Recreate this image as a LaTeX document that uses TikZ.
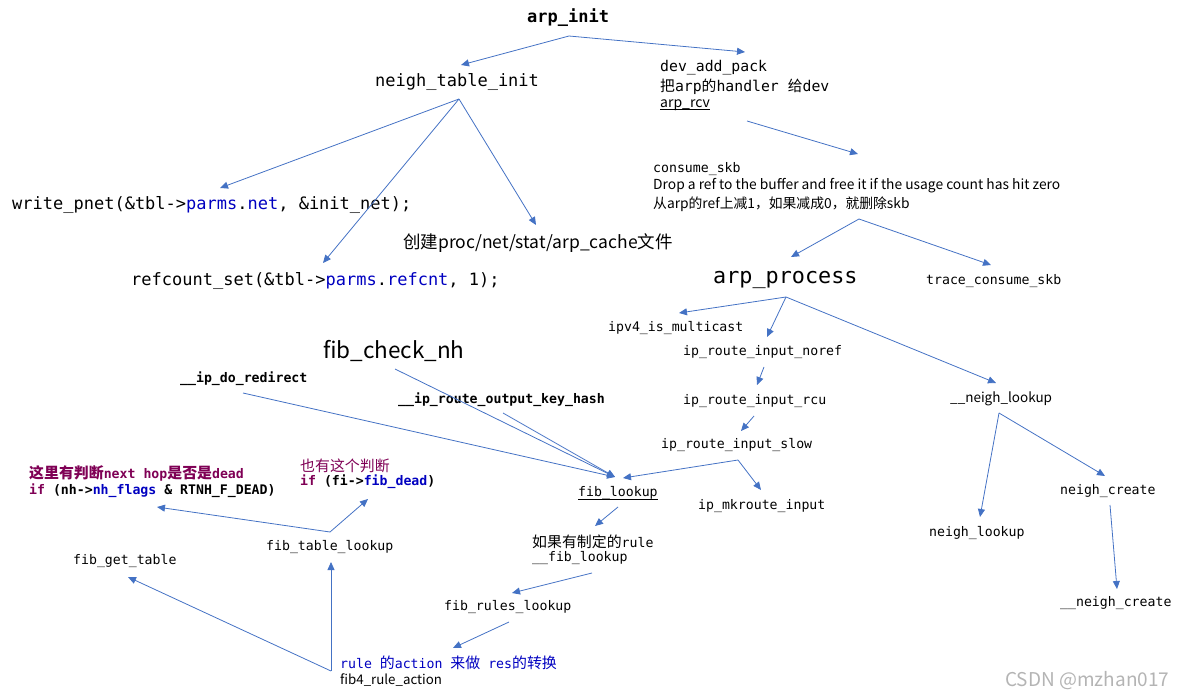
\documentclass[tikz,border=0pt]{standalone}
\usepackage{fontspec}
\setmonofont{DejaVu Sans Mono}
\newfontfamily\cjk{Noto Sans CJK SC}
\newfontfamily\cjkm{Noto Sans CJK SC}[Scale=1.13]
\newfontfamily\yh{Noto Sans CJK SC}
\usetikzlibrary{arrows.meta}
\definecolor{arrblue}{HTML}{4472C4}
\definecolor{fld}{HTML}{0000C0}
\definecolor{kw}{HTML}{7F0055}
\definecolor{wm}{HTML}{B4B4B4}
\tikzset{
  lbl/.style={anchor=west, inner sep=0pt, font=\ttfamily\fontsize{13.2}{15}\selectfont},
  lblb/.style={lbl, font=\ttfamily\bfseries\fontsize{13.2}{15}\selectfont},
  mid/.style={lbl, font=\ttfamily\fontsize{14.8}{17}\selectfont},
  big/.style={lbl, font=\ttfamily\fontsize{17}{20}\selectfont},
  bigb/.style={lbl, font=\ttfamily\bfseries\fontsize{17}{20}\selectfont},
  huge/.style={lbl, font=\ttfamily\fontsize{21.8}{24}\selectfont},
  sans/.style={lbl, font=\yh\fontsize{#1}{#1}\selectfont},
  uline/.style={draw=black, line width=0.8pt},
  arr/.style={draw=arrblue, line width=0.8pt, -{Triangle[length=8pt,width=7pt]}}
}
\begin{document}
\begin{tikzpicture}[x=1pt,y=-1pt]
\useasboundingbox (0,0) rectangle (1183,698);
% nodes
\node[bigb] (arpinit) at (527,18) {arp\_init};
\node[big] (ntinit) at (375,82) {neigh\_table\_init};
\node[mid] (devadd) at (660,68) {dev\_add\_pack};
\node[mid] (devhand) at (660,87) {{\cjk 把}arp{\cjk 的}handler {\cjk 给}dev};
\node[sans=14] (arprcv) at (660,105) {arp\_rcv};
\draw[uline] ([yshift=-2.5pt]arprcv.base west) -- ([yshift=-2.5pt]arprcv.base east);
\node[big] (write) at (12,205) {write\_pnet(\&tbl->\textcolor{fld}{parms}.\textcolor{fld}{net}, \&init\_net);};
\node[sans=17.5] (create) at (403,243) {创建proc/net/stat/arp\_cache文件};
\node[big] (refcount) at (131,281) {refcount\_set(\&tbl->\textcolor{fld}{parms}.\textcolor{fld}{refcnt}, 1);};
\node[lbl] (consume) at (653,169) {consume\_skb};
\node[sans=13.8] (drop) at (653,186) {Drop a ref to the buffer and free it if the usage count has hit zero};
\node[sans=13.8] (cong) at (653,204) {从arp的ref上减1，如果减成0，就删除skb};
\node[huge] (arpproc) at (713,280) {arp\_process};
\node[lbl] (trace) at (926,281) {trace\_consume\_skb};
\node[lbl] (ipv4) at (608,328) {ipv4\_is\_multicast};
\node[lbl] (noref) at (683,352) {ip\_route\_input\_noref};
\node[lbl] (rcu) at (683,401) {ip\_route\_input\_rcu};
\node[lbl] (slow) at (661,445) {ip\_route\_input\_slow};
\node[lbl] (mkroute) at (698,506) {ip\_mkroute\_input};
\node[lbl] (fiblookup) at (578,493) {fib\_lookup};
\draw[uline] ([yshift=-3pt]fiblookup.base west) -- ([yshift=-3pt]fiblookup.base east);
\node[sans=13.5] (nlookupu) at (950,399) {\_\_neigh\_lookup};
\node[lbl] (nlookup) at (929,533) {neigh\_lookup};
\node[lbl] (ncreate) at (1060,491) {neigh\_create};
\node[lbl] (ncreateu) at (1060,603) {\_\_neigh\_create};
\node[sans=22.5] (fibcheck) at (323,351) {fib\_check\_nh};
\node[lblb] (redirect) at (180,379) {\_\_ip\_do\_redirect};
\node[lblb] (keyhash) at (398,400) {\_\_ip\_route\_output\_key\_hash};
\node[lbl] (rulelook) at (532,542) {{\cjkm 如果有制定的}rule};
\node[lbl] (fiblooku) at (532,558) {\_\_fib\_lookup};
\node[lbl] (rules) at (444,607) {fib\_rules\_lookup};
\node[lbl, text=fld] (ruleact) at (340,663) {rule {\cjkm 的}action {\cjkm 来做} res{\cjkm 的转换}};
\node[sans=13.3] (fib4) at (340,680) {fib4\_rule\_action};
\node[lbl] (gettable) at (73,561) {fib\_get\_table};
\node[lbl] (tablelook) at (266,547) {fib\_table\_lookup};
\node[lblb, text=kw] (judgea) at (29,473) {{\cjkm\bfseries 这里有判断}next hop{\cjkm\bfseries 是否是}dead};
\node[lblb] (judgeb) at (29,491) {\textcolor{kw}{if} (nh->\textcolor{fld}{nh\_flags} \& RTNH\_F\_DEAD)};
\node[lbl, text=kw] (judgec) at (300,466) {{\cjkm 也有这个判断}};
\node[lblb] (judged) at (300,482) {\textcolor{kw}{if} (fi->\textcolor{fld}{fib\_dead})};
\node[sans=19, text=wm] (csdn) at (1005,681) {CSDN @mzhan017};
% connectors
\draw[arr] ([shift={(42,18)}]arpinit.west) -- ([shift={(86,-17)}]ntinit.west);
\draw[arr] ([shift={(42,18)}]arpinit.west) -- ([shift={(85,-16)}]devadd.west);
\draw[arr] ([shift={(87,16)}]arprcv.west) -- ([shift={(205,-15)}]consume.west);
\draw[arr] ([shift={(84,17)}]ntinit.west) -- ([shift={(208,-17)}]write.west);
\draw[arr] ([shift={(84,17)}]ntinit.west) -- ([shift={(192,-18)}]refcount.west);
\draw[arr] ([shift={(84,17)}]ntinit.west) -- ([shift={(133,-18)}]create.west);
\draw[arr] ([shift={(206,15)}]cong.west) -- ([shift={(78,-23)}]arpproc.west);
\draw[arr] ([shift={(206,15)}]cong.west) -- ([shift={(65,-16)}]trace.west);
\draw[arr] ([shift={(73,17)}]arpproc.west) -- ([shift={(71,-15)}]ipv4.west);
\draw[arr] ([shift={(73,17)}]arpproc.west) -- ([shift={(84,-15)}]noref.west);
\draw[arr] ([shift={(73,17)}]arpproc.west) -- ([shift={(46,-16)}]nlookupu.west);
\draw[arr] ([shift={(81,15)}]noref.west) -- ([shift={(74,-16)}]rcu.west);
\draw[arr] ([shift={(71,15)}]rcu.west) -- ([shift={(80,-14)}]slow.west);
\draw[arr] ([shift={(77,15)}]slow.west) -- ([shift={(45,-15)}]fiblookup.west);
\draw[arr] ([shift={(77,15)}]slow.west) -- ([shift={(63,-16)}]mkroute.west);
\draw[arr] ([shift={(49,14)}]nlookupu.west) -- ([shift={(51,-16)}]nlookup.west);
\draw[arr] ([shift={(49,14)}]nlookupu.west) -- ([shift={(45,-15)}]ncreate.west);
\draw[arr] ([shift={(50,14)}]ncreate.west) -- ([shift={(57,-14)}]ncreateu.west);
\draw[arr] ([shift={(72,18)}]fibcheck.west) -- ([shift={(37,-16)}]fiblookup.west);
\draw[arr] ([shift={(63,14)}]redirect.west) -- ([shift={(37,-16)}]fiblookup.west);
\draw[arr] ([shift={(105,13)}]keyhash.west) -- ([shift={(37,-16)}]fiblookup.west);
\draw[arr] ([shift={(40,14)}]fiblookup.west) -- ([shift={(63,-16)}]rulelook.west);
\draw[arr] ([shift={(60,15)}]fiblooku.west) -- ([shift={(68,-14)}]rules.west);
\draw[arr] ([shift={(65,15)}]rules.west) -- ([shift={(113,-15)}]ruleact.west);
\draw[arr] ([shift={(-9,8)}]ruleact.west) -- ([shift={(55,16)}]gettable.west);
\draw[arr] ([shift={(-9,8)}]ruleact.west) -- ([shift={(65,15)}]tablelook.west);
\draw[arr] ([shift={(64,-15)}]tablelook.west) -- ([shift={(128,16)}]judgeb.west);
\draw[arr] ([shift={(64,-15)}]tablelook.west) -- ([shift={(68,17)}]judged.west);
\end{tikzpicture}
\end{document}
